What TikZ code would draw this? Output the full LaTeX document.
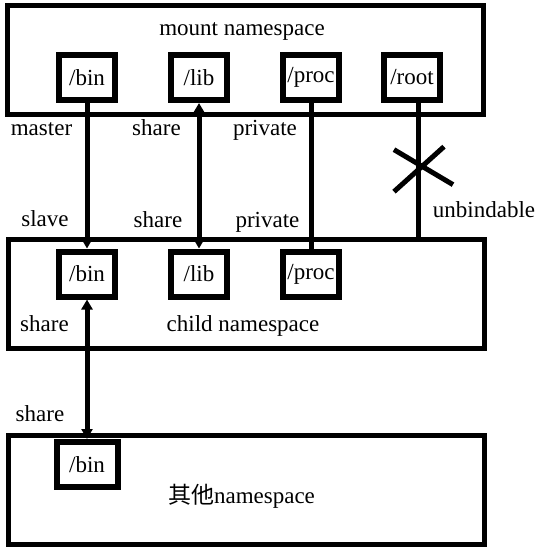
\documentclass[tikz,border=0pt]{standalone}
\usepackage{fontspec}
\setmainfont{Liberation Serif}
\newfontfamily\cjk{Noto Sans CJK SC}
\usetikzlibrary{positioning, calc, arrows.meta}
\tikzset{every node/.style={font=\fontsize{23}{27}\selectfont}}
\tikzset{nsbox/.style={draw, line width=5pt, minimum width=476pt, minimum height=109pt, inner sep=0pt}}
\tikzset{dirbox/.style={draw, line width=6pt, minimum width=56pt, minimum height=45pt, inner sep=0pt}}
\tikzset{bindline/.style={draw, line width=5pt}}
\tikzset{tag/.style={anchor=base, inner sep=0pt}}
\tikzset{>={Triangle[length=10pt, width=11pt]}}

\begin{document}
\begin{tikzpicture}[x=1pt, y=-1pt]
			\useasboundingbox (0,0) rectangle (542,550);

			% namespaces
			\node[nsbox] (mnt) at (245.5,60){};
			\node[nsbox] (child) at (246,294){};
			\node[nsbox] (other) at (246.5,490){};
			\node[tag] (mnt-lab) at (242,35){mount namespace};
			\node[tag] (child-lab) at (243,331){child namespace};
			\node[tag] (other-lab) at (241.5,503){{\cjk 其他}namespace};

			% mount points
			\node[dirbox] (tbin) at (87,77.5){/bin};
			\node[dirbox] (tlib) at (199,77.5){/lib};
			\node[dirbox] (tproc) at (311,77.5){/proc};
			\node[dirbox] (troot) at (412,77.5){/root};
			\node[dirbox] (cbin) at (87,274){/bin};
			\node[dirbox] (clib) at (199,274){/lib};
			\node[dirbox] (cproc) at (311,274){/proc};
			\node[dirbox, minimum width=61pt] (obin) at (87,464.5){/bin};

			% propagation
			\draw[bindline, ->] (tbin) -- (cbin);
			\draw[bindline, <->] (tlib) -- (clib);
			\draw[bindline] (tproc) -- (cproc);
			\draw[bindline] ([xshift=6pt]troot.south) -- ([xshift=6pt]troot.south |- child.north) coordinate[pos=0.46] (cut);
			\draw[bindline] ([shift={(-24,-15)}]cut) -- ([shift={(35,20)}]cut);
			\draw[bindline] ([shift={(26,-18)}]cut) -- ([shift={(-24,27)}]cut);
			\draw[bindline, <->] (cbin) -- (obin);

			\node[tag] at (41.5,135){master};
			\node[tag] at (156.5,135){share};
			\node[tag] at (265,135){private};
			\node[tag] at (45,226){slave};
			\node[tag] at (158,227){share};
			\node[tag] at (267.5,227){private};
			\node[tag] at (484,217){unbindable};
			\node[tag] at (44.5,331){share};
			\node[tag] at (40,421){share};
		\end{tikzpicture}
\end{document}
